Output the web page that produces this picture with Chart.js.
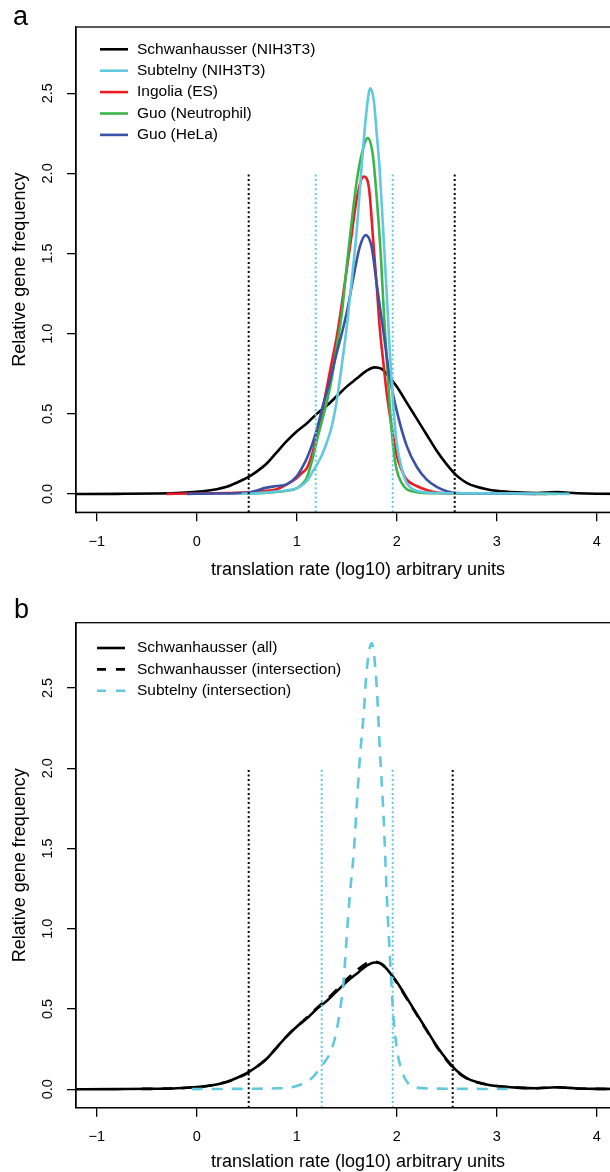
<!DOCTYPE html>
<html>
<head>
<meta charset="utf-8">
<script src="https://cdn.jsdelivr.net/npm/chart.js@4.4.0/dist/chart.umd.min.js"></script>
<style>
html, body { margin: 0; padding: 0; background: #fff; overflow: hidden; width: 610px; height: 1172px; }
canvas { display: block; }
#wrapA { position: absolute; left: 0; top: 0; }
#wrapB { position: absolute; left: 0; top: 590px; }
</style>
</head>
<body>
<div id="wrapA"><canvas id="chartA" width="640" height="590"></canvas></div>
<div id="wrapB"><canvas id="chartB" width="640" height="582"></canvas></div>
<script>
// density curves (x = log10 translation rate, y = relative frequency)
const schwanX = [-1.3, -0.8, -0.4, -0.2, 0, 0.1, 0.2, 0.3, 0.4, 0.5, 0.6, 0.7, 0.8, 0.9, 1.0, 1.1, 1.2, 1.3, 1.4, 1.5, 1.6, 1.7, 1.78, 1.85, 1.9, 2.0, 2.1, 2.2, 2.3, 2.4, 2.5, 2.6, 2.7, 2.8, 2.9, 3.0, 3.2, 3.4, 3.6, 3.8, 4.0, 4.5];
const schwanY = [0, 0.001, 0.003, 0.006, 0.014, 0.02, 0.03, 0.045, 0.07, 0.1, 0.14, 0.19, 0.26, 0.33, 0.39, 0.44, 0.50, 0.55, 0.61, 0.67, 0.72, 0.77, 0.79, 0.78, 0.75, 0.67, 0.57, 0.47, 0.37, 0.27, 0.185, 0.115, 0.07, 0.045, 0.03, 0.02, 0.01, 0.006, 0.012, 0.005, 0.002, 0.001];

const subtelnyX = [0.45, 0.6, 0.8, 0.9, 1.0, 1.1, 1.15, 1.2, 1.25, 1.3, 1.35, 1.4, 1.45, 1.5, 1.55, 1.6, 1.65, 1.7, 1.735, 1.77, 1.8, 1.83, 1.86, 1.9, 1.93, 1.96, 2.0, 2.05, 2.1, 2.2, 2.4, 2.8, 3.2, 3.73];
const subtelnyY = [0.002, 0.005, 0.015, 0.022, 0.035, 0.08, 0.13, 0.18, 0.24, 0.32, 0.42, 0.58, 0.80, 1.04, 1.33, 1.64, 2.05, 2.40, 2.53, 2.46, 2.25, 2.02, 1.70, 1.25, 0.90, 0.60, 0.32, 0.16, 0.07, 0.02, 0.006, 0.004, 0.003, 0.001];

const ingoliaX = [-0.3, 0, 0.3, 0.5, 0.7, 0.8, 0.9, 1.0, 1.05, 1.1, 1.15, 1.2, 1.25, 1.3, 1.35, 1.4, 1.45, 1.5, 1.55, 1.6, 1.67, 1.72, 1.77, 1.8, 1.83, 1.87, 1.9, 1.95, 2.0, 2.05, 2.1, 2.2, 2.3, 2.4, 2.6, 3.0, 3.5];
const ingoliaY = [0.001, 0.003, 0.006, 0.01, 0.02, 0.03, 0.06, 0.1, 0.13, 0.16, 0.24, 0.36, 0.50, 0.66, 0.82, 0.98, 1.18, 1.40, 1.62, 1.84, 1.98, 1.92, 1.54, 1.30, 1.04, 0.80, 0.63, 0.42, 0.24, 0.15, 0.09, 0.05, 0.025, 0.01, 0.004, 0.002, 0.001];

const guoNeutroX = [0.5, 0.7, 0.9, 1.0, 1.05, 1.1, 1.15, 1.2, 1.25, 1.3, 1.35, 1.4, 1.45, 1.5, 1.55, 1.6, 1.65, 1.71, 1.76, 1.8, 1.84, 1.87, 1.9, 1.93, 1.97, 2.0, 2.05, 2.1, 2.2, 2.4, 2.8, 3.2, 3.6];
const guoNeutroY = [0.002, 0.008, 0.02, 0.035, 0.06, 0.1, 0.2, 0.33, 0.45, 0.57, 0.72, 0.92, 1.12, 1.42, 1.70, 1.95, 2.12, 2.22, 2.12, 1.85, 1.50, 1.15, 0.85, 0.55, 0.27, 0.15, 0.07, 0.03, 0.012, 0.005, 0.003, 0.002, 0.001];

const guoHelaX = [-0.1, 0.2, 0.5, 0.7, 0.8, 0.9, 1.0, 1.05, 1.1, 1.15, 1.2, 1.27, 1.33, 1.4, 1.45, 1.5, 1.57, 1.63, 1.69, 1.75, 1.8, 1.87, 1.93, 2.0, 2.1, 2.2, 2.3, 2.4, 2.5, 2.6, 3.0, 3.4];
const guoHelaY = [0.001, 0.003, 0.008, 0.04, 0.05, 0.06, 0.11, 0.16, 0.22, 0.30, 0.40, 0.57, 0.70, 0.88, 1.0, 1.13, 1.36, 1.54, 1.615, 1.54, 1.31, 1.0, 0.73, 0.52, 0.30, 0.17, 0.09, 0.045, 0.018, 0.006, 0.002, 0.001];

// panel b
const schwanInterX = [-0.55, -0.3, 0, 0.2, 0.4, 0.5, 0.6, 0.7, 0.8, 0.9, 1.0, 1.1, 1.2, 1.3, 1.4, 1.5, 1.6, 1.7, 1.77, 1.85, 1.9, 2.0, 2.1, 2.2, 2.3, 2.4, 2.5, 2.6, 2.7, 2.8, 3.0, 3.2, 3.4, 3.6, 3.8, 4.0, 4.5];
const schwanInterY = [0.002, 0.004, 0.013, 0.03, 0.068, 0.098, 0.14, 0.19, 0.26, 0.33, 0.39, 0.445, 0.505, 0.56, 0.62, 0.685, 0.74, 0.785, 0.795, 0.78, 0.75, 0.665, 0.565, 0.465, 0.365, 0.265, 0.18, 0.112, 0.068, 0.044, 0.02, 0.01, 0.006, 0.012, 0.005, 0.002, 0.001];

const subtelnyInterX = [-0.05, 0.3, 0.6, 0.8, 0.93, 1.0, 1.1, 1.17, 1.23, 1.28, 1.33, 1.37, 1.4, 1.44, 1.47, 1.5, 1.53, 1.57, 1.6, 1.63, 1.67, 1.7, 1.75, 1.8, 1.83, 1.87, 1.9, 1.93, 1.97, 2.0, 2.03, 2.08, 2.13, 2.2, 2.4, 2.8, 3.2];
const subtelnyInterY = [0.001, 0.002, 0.003, 0.006, 0.01, 0.02, 0.047, 0.08, 0.13, 0.17, 0.22, 0.29, 0.37, 0.52, 0.68, 0.95, 1.20, 1.47, 1.76, 2.05, 2.34, 2.61, 2.78, 2.51, 2.13, 1.68, 1.22, 0.85, 0.43, 0.26, 0.16, 0.07, 0.027, 0.01, 0.004, 0.002, 0.001];

// dotted cut-off lines
const cutsBlackA = [0.52, 2.58];
const cutsCyanA = [1.19, 1.96];
const cutsBlackB = [0.52, 2.56];
const cutsCyanB = [1.25, 1.96];
const cutTop = 2.0;

const yTickValues = [0, 0.5, 1, 1.5, 2, 2.5];
const legendLabelsA = ['Schwanhausser (NIH3T3)', 'Subtelny (NIH3T3)', 'Ingolia (ES)', 'Guo (Neutrophil)', 'Guo (HeLa)'];
const legendLabelsB = ['Schwanhausser (all)', 'Schwanhausser (intersection)', 'Subtelny (intersection)'];
const xTitle = 'translation rate (log10) arbitrary units';
const yTitle = 'Relative gene frequency';

const FONT = '"Liberation Sans", Arial, Helvetica, sans-serif';
const BLACK = '#000000';
const CYAN = '#62C8DC';
const RED = '#EC1C24';
const GREEN = '#3BB44A';
const BLUE = '#3A52A3';
const DASH = [11, 9];

function curve(xs, ys, color, dash, order) {
    return {
        data: xs.map((x, i) => ({ x: x, y: ys[i] })),
        borderColor: color,
        borderWidth: 2.6,
        borderDash: dash || [],
        pointRadius: 0,
        cubicInterpolationMode: 'monotone',
        fill: false,
        order: order
    };
}

function cutLines(xs, color, yMin) {
    return xs.map(x => ({
        data: [{ x: x, y: yMin }, { x: x, y: cutTop }],
        borderColor: color,
        borderWidth: 2,
        borderDash: [2, 2.6],
        pointRadius: 0,
        fill: false,
        order: 0
    }));
}

function decorPlugin(cfg) {
    return {
        id: 'decor',
        afterDraw(chart) {
            const ctx = chart.ctx;
            const a = chart.chartArea;
            const ys = chart.scales.y;
            ctx.save();
            // frame
            ctx.strokeStyle = BLACK;
            ctx.lineWidth = 1.3;
            ctx.strokeRect(a.left, a.top, a.right - a.left, a.bottom - a.top);

            ctx.fillStyle = BLACK;
            // panel letter
            ctx.font = '27px ' + FONT;
            ctx.textAlign = 'left';
            ctx.textBaseline = 'alphabetic';
            ctx.fillText(cfg.letter, cfg.letterX, cfg.letterY);

            // y tick labels, rotated like R
            ctx.font = '14.5px ' + FONT;
            ctx.textAlign = 'center';
            ctx.textBaseline = 'middle';
            yTickValues.forEach(v => {
                const py = ys.getPixelForValue(v);
                ctx.save();
                ctx.translate(48, py);
                ctx.rotate(-Math.PI / 2);
                ctx.fillText(v.toFixed(1), 0, 0);
                ctx.restore();
            });

            // axis titles
            ctx.font = '18px ' + FONT;
            ctx.save();
            ctx.translate(20, (a.top + a.bottom) / 2);
            ctx.rotate(-Math.PI / 2);
            ctx.fillText(yTitle, 0, 0);
            ctx.restore();
            ctx.fillText(xTitle, (a.left + a.right) / 2, cfg.xTitleY);

            // legend
            ctx.font = '15.5px ' + FONT;
            ctx.textAlign = 'left';
            cfg.legend.forEach((item, i) => {
                const y = cfg.legendTop + i * 21.4;
                ctx.beginPath();
                ctx.strokeStyle = item.color;
                ctx.lineWidth = 2.6;
                ctx.setLineDash(item.dash || []);
                ctx.moveTo(cfg.legendX0, y);
                ctx.lineTo(cfg.legendX0 + 28, y);
                ctx.stroke();
                ctx.setLineDash([]);
                ctx.fillText(item.label, 137, y);
            });
            ctx.restore();
        }
    };
}

function makeChart(canvasId, datasets, yMin, yMax, padTop, xAxisH, decor) {
    return new Chart(document.getElementById(canvasId), {
        type: 'line',
        data: { datasets: datasets },
        options: {
            responsive: false,
            animation: false,
            events: [],
            layout: { padding: { top: padTop, left: 0, right: 0, bottom: 0 } },
            plugins: { legend: { display: false }, tooltip: { enabled: false } },
            scales: {
                x: {
                    type: 'linear',
                    min: -1.207,
                    max: 4.433,
                    ticks: {
                        stepSize: 1,
                        includeBounds: false,
                        color: BLACK,
                        padding: 12,
                        font: { family: FONT, size: 14.5 },
                        callback: v => (v < 0 ? '\u2212' + Math.abs(v) : String(v))
                    },
                    grid: { drawOnChartArea: false, drawTicks: true, tickLength: 9, color: BLACK, lineWidth: 1.3 },
                    border: { display: true, color: BLACK, width: 1.3 },
                    afterFit: s => { s.height = xAxisH; }
                },
                y: {
                    type: 'linear',
                    min: yMin,
                    max: yMax,
                    ticks: { stepSize: 0.5, includeBounds: false, display: false },
                    grid: { drawOnChartArea: false, drawTicks: true, tickLength: 9, color: BLACK, lineWidth: 1.3 },
                    border: { display: true, color: BLACK, width: 1.3 },
                    afterFit: s => { s.width = 76; }
                }
            }
        },
        plugins: [decorPlugin(decor)]
    });
}

const yMinA = -0.114, yMaxA = 2.913;
const yMinB = -0.115, yMaxB = 2.907;

makeChart('chartA', [
    ...cutLines(cutsBlackA, BLACK, yMinA),
    ...cutLines(cutsCyanA, CYAN, yMinA),
    curve(subtelnyX, subtelnyY, CYAN, null, 1),
    curve(guoHelaX, guoHelaY, BLUE, null, 2),
    curve(guoNeutroX, guoNeutroY, GREEN, null, 3),
    curve(ingoliaX, ingoliaY, RED, null, 4),
    curve(schwanX, schwanY, BLACK, null, 5)
], yMinA, yMaxA, 27, 77.7, {
    letter: 'a', letterX: 13, letterY: 25, xTitleY: 570, legendTop: 49.3, legendX0: 100,
    legend: [
        { label: legendLabelsA[0], color: BLACK },
        { label: legendLabelsA[1], color: CYAN },
        { label: legendLabelsA[2], color: RED },
        { label: legendLabelsA[3], color: GREEN },
        { label: legendLabelsA[4], color: BLUE }
    ]
});

makeChart('chartB', [
    ...cutLines(cutsBlackB, BLACK, yMinB),
    ...cutLines(cutsCyanB, CYAN, yMinB),
    curve(subtelnyInterX, subtelnyInterY, CYAN, DASH, 1),
    curve(schwanInterX, schwanInterY, BLACK, DASH, 2),
    curve(schwanX, schwanY, BLACK, null, 3)
], yMinB, yMaxB, 32.7, 64.3, {
    letter: 'b', letterX: 14, letterY: 28, xTitleY: 571.7, legendTop: 58, legendX0: 97,
    legend: [
        { label: legendLabelsB[0], color: BLACK },
        { label: legendLabelsB[1], color: BLACK, dash: [9, 10] },
        { label: legendLabelsB[2], color: CYAN, dash: [9, 10] }
    ]
});
</script>
</body>
</html>
